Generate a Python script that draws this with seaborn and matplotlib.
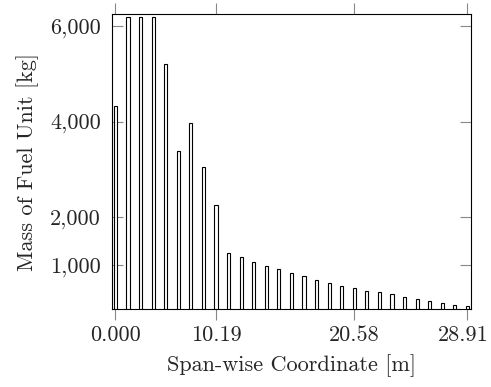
import numpy as np
import pandas as pd
import matplotlib
matplotlib.use("Agg")
import matplotlib.pyplot as plt
import matplotlib.transforms as mtransforms
import seaborn as sns
from matplotlib.ticker import FixedLocator, FuncFormatter

# --- data ---
bar_index = list(range(29))
mass_kg = [4324, 6175, 6175, 6175, 5200, 3384, 3962, 3050, 2250, 1248,
           1165, 1073, 990, 921, 837, 768, 691, 628, 572, 518,
           461, 440, 392, 342, 294, 253, 211, 175, 148]
xtick_positions = [0, 8, 19, 28]
xtick_labels = ["0.000", "10.19", "20.58", "28.91"]
ytick_values = [1000, 2000, 4000, 6000]

sns.set_style("white")
plt.rcParams["font.family"] = ["cmr10", "DejaVu Serif"]
plt.rcParams["mathtext.fontset"] = "cm"
plt.rcParams["axes.formatter.use_mathtext"] = True

df = pd.DataFrame({"idx": bar_index, "mass": mass_kg})

fig = plt.figure(figsize=(4.91, 3.87), dpi=100)
ax = fig.add_axes([0.2281, 0.2008, 0.9593 - 0.2281, 0.963 - 0.2008])

sns.barplot(data=df, x="idx", y="mass", ax=ax, width=0.25,
            color="white", edgecolor="black", linewidth=0.8,
            saturation=1, errorbar=None)

ax.set_xlim(-0.27, 28.29)
ax.set_ylim(80, 6238)

ax.xaxis.set_major_locator(FixedLocator(xtick_positions))
ax.set_xticklabels(xtick_labels)
ax.yaxis.set_major_locator(FixedLocator(ytick_values))
ax.yaxis.set_major_formatter(FuncFormatter(lambda v, p: f"{int(v):,}"))

fs = 16
ax.tick_params(axis="x", direction="out", length=8, width=0.8, color="#888888",
               top=True, bottom=True, labelsize=fs, pad=4)
ax.tick_params(axis="y", direction="in", length=8, width=0.8, color="#888888",
               left=True, right=True, labelsize=fs, pad=8)

# nudge the last x tick label a few pixels left so it stays inside the figure
last = ax.get_xticklabels()[-1]
last.set_transform(last.get_transform() +
                   mtransforms.ScaledTranslation(-3 / 72, 0, fig.dpi_scale_trans))

for s in ax.spines.values():
    s.set_visible(True)
    s.set_color("black")
    s.set_linewidth(0.8)

ax.set_xlabel("Span-wise Coordinate [m]", fontsize=fs, labelpad=6)
ax.set_ylabel("Mass of Fuel Unit [kg]", fontsize=fs, labelpad=8)

fig.savefig("out.png", dpi=100)
